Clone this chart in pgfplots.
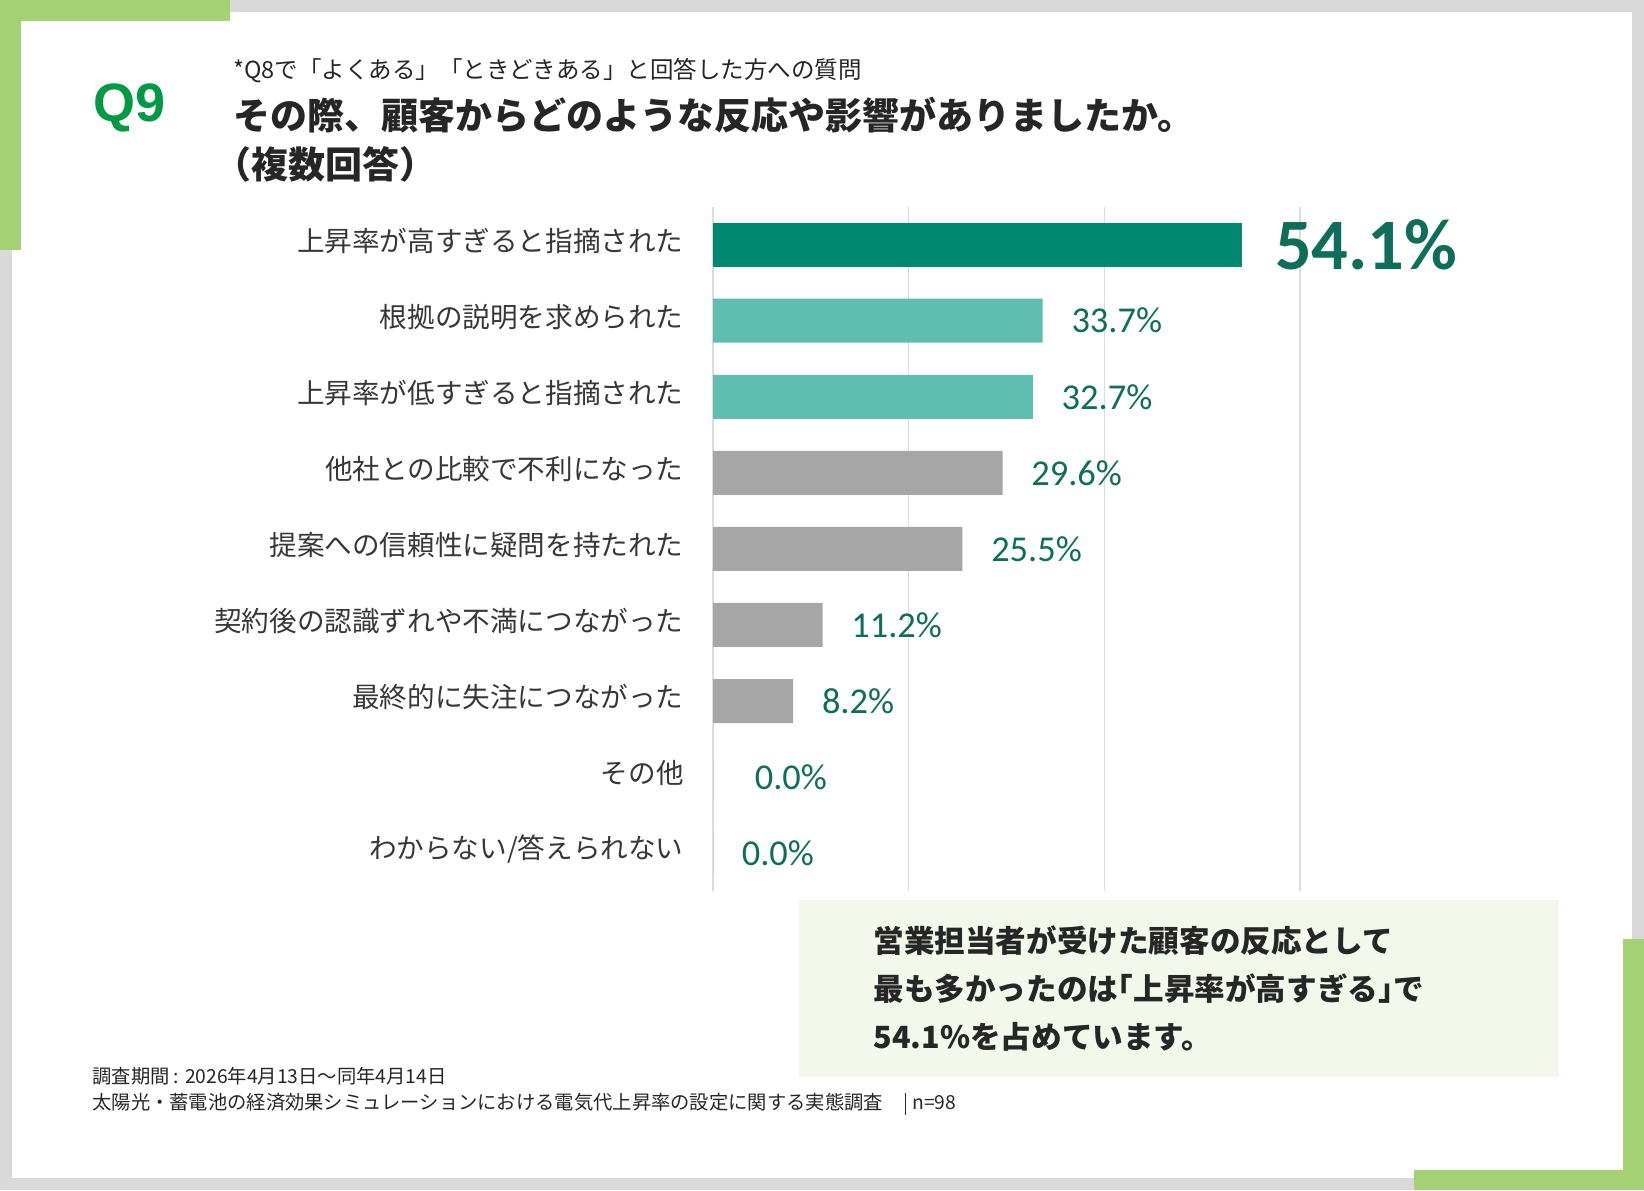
\documentclass[border=0pt]{standalone}
\usepackage{fontspec}
\usepackage{pgfplots}
\pgfplotsset{compat=1.18}
\setmainfont{Noto Sans CJK JP}
\newfontfamily\jphalt[RawFeature=+halt]{Noto Sans CJK JP}
\newfontfamily\carlito{Carlito}
\newfontfamily\arialf{Liberation Sans}
\definecolor{bggray}{RGB}{217,217,217}
\definecolor{lgreen}{RGB}{163,209,115}
\definecolor{qgreen}{RGB}{0,153,68}
\definecolor{txt}{RGB}{38,38,38}
\definecolor{labtxt}{RGB}{55,55,55}
\definecolor{bar1}{RGB}{0,137,112}
\definecolor{bar2}{RGB}{95,189,178}
\definecolor{bar3}{RGB}{166,166,166}
\definecolor{valcol}{RGB}{15,110,90}
\definecolor{gridgray}{RGB}{220,220,220}
\definecolor{callbg}{RGB}{243,248,236}
\begin{document}
\begin{tikzpicture}[x=1pt,y=1pt]
\path[use as bounding box] (0,0) rectangle (822,595);
\fill[bggray] (0,0) rectangle (822,595);
\fill[white] (6,6) rectangle (816,589);
\fill[lgreen] (0,584.5) rectangle (115,595);
\fill[lgreen] (0,470) rectangle (10.5,595);
\fill[lgreen] (707,0) rectangle (822,10);
\fill[lgreen] (811.5,0) rectangle (822,125.5);
% header
\node[anchor=base west, inner sep=0pt, font=\arialf\bfseries\fontsize{27}{27}\selectfont, text=qgreen] at (46.5,534.3) {Q9};
\node[anchor=base west, inner sep=0pt, font=\fontsize{11.75}{12}\selectfont, text=txt] at (116.5,555.8) {*Q8で「よくある」「ときどきある」と回答した方への質問};
\node[anchor=base west, inner sep=0pt, font=\bfseries\fontsize{18.5}{18.5}\selectfont, text=txt] at (116.5,530) {その際、顧客からどのような反応や影響がありましたか。};
\node[anchor=base west, inner sep=0pt, font=\bfseries\fontsize{18.5}{18.5}\selectfont, text=txt] at (116.5,505.5) {\hspace*{-0.5em}（複数回答）};
% chart
\begin{axis}[
  at={(356.5pt,149.4pt)}, anchor=south west,
  scale only axis, width=293.5pt, height=342.3pt,
  xmin=0, xmax=60, ymin=-0.5, ymax=8.5, y dir=reverse,
  xbar, bar width=22pt, bar shift=0pt,
  axis line style={draw=none},
  major tick length=0pt,
  xtick={0,20,40,60}, xticklabels={},
  xmajorgrids, grid style={draw=gridgray, line width=0.6pt},
  ytick={0,1,2,3,4,5,6,7,8},
  yticklabels={上昇率が高すぎると指摘された,根拠の説明を求められた,上昇率が低すぎると指摘された,他社との比較で不利になった,提案への信頼性に疑問を持たれた,契約後の認識ずれや不満につながった,最終的に失注につながった,その他,わからない/答えられない},
  yticklabel style={font=\fontsize{13.8}{14}\selectfont, text=labtxt, inner sep=0pt, anchor=east, xshift=-14.5pt, yshift=2pt},
  point meta=explicit symbolic,
  nodes near coords,
  nodes near coords style={anchor=west, inner sep=0pt, xshift=14.2pt, text=valcol, font=\carlito\fontsize{18.2}{18.5}\selectfont},
  clip=false,
]
\addplot[fill=bar1, draw=none, nodes near coords style={font=\carlito\bfseries\fontsize{36.2}{36.5}\selectfont, xshift=2pt}] coordinates {(54.1,0) [54.1\%]};
\addplot[fill=bar2, draw=none] coordinates {(33.7,1) [33.7\%] (32.7,2) [32.7\%]};
\addplot[fill=bar3, draw=none] coordinates {(29.6,3) [29.6\%] (25.5,4) [25.5\%] (11.2,5) [11.2\%] (8.2,6) [8.2\%]};
\addplot[fill=bar3, draw=none, nodes near coords style={xshift=6.5pt}] coordinates {(0,7) [0.0\%]};
\addplot[fill=bar3, draw=none] coordinates {(0,8) [0.0\%]};
\end{axis}
% callout
\fill[callbg] (399.5,56.5) rectangle (779.5,145);
\node[anchor=base west, inner sep=0pt, font=\bfseries\fontsize{15.3}{15.3}\selectfont, text=txt] at (436.5,118.9) {営業担当者が受けた顧客の反応として};
\node[anchor=base west, inner sep=0pt, font=\jphalt\bfseries\fontsize{15.3}{15.3}\selectfont, text=txt] at (436.5,94.7) {最も多かったのは「上昇率が高すぎる」で};
\node[anchor=base west, inner sep=0pt, font=\bfseries\fontsize{15.3}{15.3}\selectfont, text=txt] at (436.5,70.7) {54.1\%を占めています。};
% footer
\node[anchor=base west, inner sep=0pt, font=\fontsize{9.65}{10}\selectfont, text=txt] at (46,53.3) {調査期間 : 2026年4月13日～同年4月14日};
\node[anchor=base west, inner sep=0pt, font=\fontsize{9.65}{10}\selectfont, text=txt] at (46,40.3) {太陽光・蓄電池の経済効果シミュレーションにおける電気代上昇率の設定に関する実態調査};
\draw[txt, line width=0.5pt] (452.5,37.5) -- (452.5,48.5);
\node[anchor=base west, inner sep=0pt, font=\fontsize{9.65}{10}\selectfont, text=txt] at (456,40.3) {n=98};
\end{tikzpicture}
\end{document}
